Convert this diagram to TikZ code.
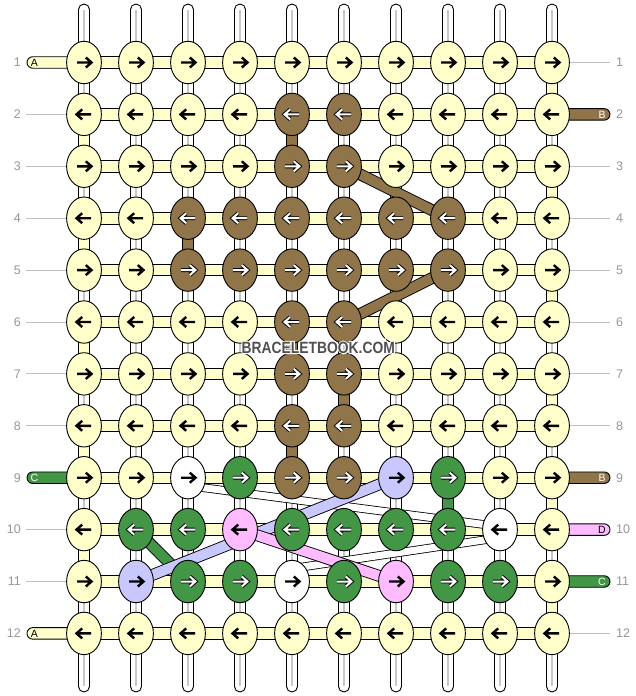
\documentclass[tikz,border=0pt]{standalone}
\usepackage{fontspec}
\setmainfont{Liberation Sans}
\usepackage{graphicx}
\usetikzlibrary{shapes.geometric,calc}
\definecolor{byel}{RGB}{255,255,204}
\definecolor{bbrown}{RGB}{145,117,74}
\definecolor{bgreen}{RGB}{67,150,70}
\definecolor{blav}{RGB}{200,200,255}
\definecolor{bpink}{RGB}{255,187,255}
\definecolor{lblgray}{RGB}{150,150,150}
\definecolor{tubegray}{RGB}{200,200,200}
\definecolor{wmgray}{RGB}{80,80,80}
\colorlet{kcy}{byel}
\colorlet{kcb}{bbrown}
\colorlet{kcg}{bgreen}
\colorlet{kcl}{blav}
\colorlet{kcp}{bpink}
\colorlet{kcw}{white}
\pgfdeclarelayer{bg}
\pgfdeclarelayer{mid}
\pgfsetlayers{bg,mid,main}
\tikzset{
  knot/.style={ellipse, draw=black, line width=0.9pt, minimum width=34.8pt, minimum height=42.4pt, inner sep=0pt, outer sep=0pt},
  arrlight/.style={draw=black, line width=2.4pt, line join=miter, line cap=butt},
  arrdark/.style={draw=white, line width=2pt, line join=miter, line cap=butt, preaction={draw=black, line width=3.9pt}},
  arr-y/.style={arrlight}, arr-w/.style={arrlight}, arr-l/.style={arrlight}, arr-p/.style={arrlight},
  arr-b/.style={arrdark}, arr-g/.style={arrdark},
  tube/.style={draw=black, fill=white, line width=0.9pt, rounded corners=5.5pt},
  tubeline/.style={draw=tubegray, line width=2pt},
  seg/.style={draw=black, line width=0.9pt},
  rowlbl/.style={font=\fontsize{12.5}{12.5}\selectfont, text=lblgray, inner sep=0pt},
  taillbl/.style={font=\fontsize{10.5}{10.5}\selectfont, inner sep=0pt},
  guide/.style={draw=lblgray!60, line width=0.9pt},
  bandout/.style={draw=black, line width=11.8pt},
  bandin/.style={line width=10pt},
  wbandout/.style={draw=black, line width=8.6pt},
  wbandin/.style={draw=white, line width=7pt},
}
\newcommand\wmraw{\fontsize{16.3}{16.3}\selectfont\bfseries\scalebox{0.85}[1]{BRACELETBOOK.COM}}
\newcommand\wmtext{{\color{white}\special{pdf:literal direct 2 Tr 2.2 w}\rlap{\wmraw}\special{pdf:literal direct 0 Tr}}{\color{wmgray}\wmraw}}
\begin{document}
\begin{tikzpicture}[x=1pt,y=-1pt]
\useasboundingbox (0,0) rectangle (636,696);
% knots and arrows
\foreach \rw/\cols in {
  1/{y,y,y,y,y,y,y,y,y,y},
  2/{y,y,y,y,b,b,y,y,y,y},
  3/{y,y,y,y,b,b,y,y,y,y},
  4/{y,y,b,b,b,b,b,b,y,y},
  5/{y,y,b,b,b,b,b,b,y,y},
  6/{y,y,y,y,b,b,y,y,y,y},
  7/{y,y,y,y,b,b,y,y,y,y},
  8/{y,y,y,y,b,b,y,y,y,y},
  9/{y,y,w,g,b,b,l,g,y,y},
  10/{y,g,g,p,g,g,g,g,w,y},
  11/{y,l,g,g,w,g,p,g,g,y},
  12/{y,y,y,y,y,y,y,y,y,y}}{
  \foreach \k [count=\c] in \cols {
    \pgfmathsetmacro\xx{84+52*(\c-1)}
    \pgfmathsetmacro\yy{62.5+51.9*(\rw-1)}
    \node[knot, fill=kc\k] (k-\rw-\c) at (\xx,\yy) {};
    \pgfmathsetmacro\dd{ifthenelse(mod(\rw,2)==1,1,-1)}
    \pgfmathsetmacro\xa{-7*\dd}
    \pgfmathsetmacro\xb{7*\dd}
    \pgfmathsetmacro\xh{1.8*\dd}
    \pgfmathsetmacro\xt{7.5*\dd}
    \draw[arr-\k] ($(k-\rw-\c.center)+(\xa,0)$) -- ($(k-\rw-\c.center)+(\xb,0)$)
      ($(k-\rw-\c.center)+(\xh,-5)$) -- ($(k-\rw-\c.center)+(\xt,0)$) -- ($(k-\rw-\c.center)+(\xh,5)$);
  }
}
% background: tubes, row strings, vertical pieces, tails
\begin{pgfonlayer}{bg}
  \foreach \c in {1,...,10}{
    \pgfmathsetmacro\xx{84+52*(\c-1)}
    \coordinate (top-\c) at (\xx,4);
    \coordinate (bot-\c) at (\xx,692);
    \draw[tube] ($(top-\c)+(-5.5,0)$) rectangle ($(bot-\c)+(5.5,0)$);
    \draw[tubeline] ($(top-\c)+(0,6)$) -- ($(bot-\c)+(0,-6)$);
  }
  \foreach \rw in {1,...,12}{
    \draw[seg, fill=byel] ($(k-\rw-1.center)+(0,-5.75)$) rectangle ($(k-\rw-10.center)+(0,5.75)$);
  }
  \foreach \c/\rw/\col in {10/1/byel,10/3/byel,10/5/byel,10/7/byel,10/9/byel,10/11/byel,
      1/2/byel,1/4/byel,1/6/byel,1/8/byel,1/10/byel,
      5/2/bbrown,3/4/bbrown,5/6/bbrown,6/7/bbrown,5/8/bbrown,8/9/bgreen}{
    \pgfmathtruncatemacro\rn{\rw+1}
    \draw[seg, fill=\col] ($(k-\rw-\c.center)+(-5.75,0)$) rectangle ($(k-\rn-\c.center)+(5.75,0)$);
  }
  \foreach \rw/\col/\lt/\tc in {1/byel/A/black, 9/bgreen/C/white, 12/byel/A/black}{
    \coordinate (lt-\rw) at ($(k-\rw-1.center)+(-57,0)$);
    \draw[seg, fill=\col, rounded corners=5.75pt] ($(lt-\rw)+(0,-5.75)$) rectangle ($(k-\rw-1.center)+(0,5.75)$);
    \node[taillbl, text=\tc] (tl-\rw) at ($(lt-\rw)+(7.5,0)$) {\lt};
  }
  \foreach \rw/\col/\lt/\tc in {2/bbrown/B/white, 9/bbrown/B/white, 10/bpink/D/black, 11/bgreen/C/white}{
    \coordinate (rt-\rw) at ($(k-\rw-10.center)+(58,0)$);
    \draw[seg, fill=\col, rounded corners=5.75pt] ($(k-\rw-10.center)+(0,-5.75)$) rectangle ($(rt-\rw)+(0,5.75)$);
    \node[taillbl, text=\tc] (tr-\rw) at ($(rt-\rw)+(-8,0)$) {\lt};
  }
  \foreach \rw in {2,3,4,5,6,7,8,10,11}{
    \coordinate (lg-\rw) at ($(k-\rw-1.center)+(-58,0)$);
    \draw[guide] (lg-\rw) -- (k-\rw-1.center);
  }
  \foreach \rw in {1,3,4,5,6,7,8,12}{
    \coordinate (rg-\rw) at ($(k-\rw-10.center)+(58,0)$);
    \draw[guide] (k-\rw-10.center) -- (rg-\rw);
  }
\end{pgfonlayer}
% diagonal strings
\begin{pgfonlayer}{mid}
  \coordinate (w1a) at ($(k-9-3.center)+(0,8)$);
  \coordinate (w1b) at ($(k-10-9.center)+(0,-3)$);
  \coordinate (w2a) at ($(k-11-5.center)+(0,-13)$);
  \coordinate (w2b) at ($(k-10-9.center)+(0,8)$);
  \draw[wbandout] (w1a) -- (w1b);
  \draw[wbandin] (w1a) -- (w1b);
  \draw[wbandout] (w2a) -- (w2b);
  \draw[wbandin] (w2a) -- (w2b);
  \foreach \a/\b/\col in {k-3-6/k-4-8/bbrown, k-5-8/k-6-6/bbrown, k-10-2/k-11-3/bgreen, k-11-2/k-9-7/blav, k-10-4/k-11-7/bpink}{
    \draw[bandout] (\a.center) -- (\b.center);
    \draw[bandin, draw=\col] (\a.center) -- (\b.center);
  }
\end{pgfonlayer}
% row numbers
\foreach \rw in {1,...,12}{
  \node[rowlbl, anchor=east] (ll-\rw) at ($(k-\rw-1.center)+(-63,0)$) {\rw};
  \node[rowlbl, anchor=west] (rl-\rw) at ($(k-\rw-10.center)+(64,0)$) {\rw};
}
% watermark
\node[inner sep=0pt] (wm) at (318.3,347.5) {\wmtext};
\end{tikzpicture}
\end{document}
